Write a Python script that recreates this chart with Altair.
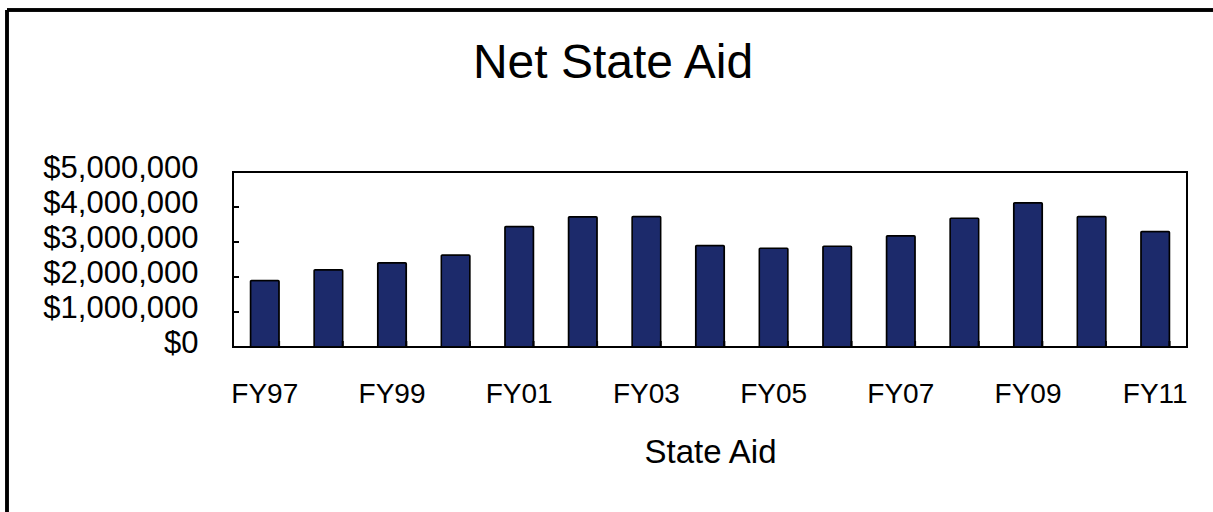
import altair as alt
import pandas as pd

years = ["FY97", "FY98", "FY99", "FY00", "FY01", "FY02", "FY03", "FY04",
         "FY05", "FY06", "FY07", "FY08", "FY09", "FY10", "FY11"]
aid = [1900000, 2210000, 2410000, 2630000, 3440000, 3720000, 3730000, 2900000,
       2820000, 2880000, 3180000, 3680000, 4120000, 3730000, 3300000]
shown_labels = ["FY97", "FY99", "FY01", "FY03", "FY05", "FY07", "FY09", "FY11"]
y_ticks = [0, 1000000, 2000000, 3000000, 4000000, 5000000]
inner_ticks = [1000000, 2000000, 3000000, 4000000]
chart_title = ["Net State Aid"]

df = pd.DataFrame({"year": years, "aid": aid})
tick_df = pd.DataFrame({"v": inner_ticks})
title_df = pd.DataFrame({"t": chart_title})

W, H = 954, 175
FONT = "Liberation Sans"

x_axis = alt.Axis(values=shown_labels, labelAngle=0, ticks=False, domain=False,
                  labelFontSize=28, labelPadding=33, labelColor="black",
                  labelFont=FONT, titleFont=FONT, titleFontSize=33,
                  titleFontWeight="normal", titleColor="black", titlePadding=28)
y_axis = alt.Axis(values=y_ticks, format="$,.0f", ticks=False, domain=False, grid=False,
                  labelFontSize=31, labelPadding=35, labelColor="black",
                  labelFont=FONT, labelOverlap=False, labelBound=False,
                  labelBaseline="middle", labelOffset=-4)
x_scale = alt.Scale(paddingInner=0.55, paddingOuter=0.275)
y_scale = alt.Scale(domain=[0, 5000000])

bars = alt.Chart(df).mark_bar(color="#1c2a6b", stroke="black", strokeWidth=1.5,
                              cornerRadius=1).encode(
    x=alt.X("year:N", sort=years, title="State Aid", scale=x_scale, axis=x_axis),
    y=alt.Y("aid:Q", scale=y_scale, title=None, axis=y_axis),
)

xticks = alt.Chart(df).mark_rule(color="black", strokeWidth=2).encode(
    x=alt.X("year:N", sort=years, title="State Aid", scale=x_scale, axis=x_axis,
            bandPosition=1),
    y=alt.value(H - 6), y2=alt.value(H),
)

yticks = alt.Chart(tick_df).mark_rule(color="black", strokeWidth=2).encode(
    y=alt.Y("v:Q", scale=y_scale, title=None, axis=y_axis),
    x=alt.value(0), x2=alt.value(6),
)

title = alt.Chart(title_df).mark_text(fontSize=48, font=FONT, color="black",
                                      align="center", baseline="alphabetic").encode(
    text="t:N", x=alt.value(380), y=alt.value(-94)
)

border_top = alt.Chart(tick_df).mark_rule(color="black", strokeWidth=3).encode(
    x=alt.value(-226), x2=alt.value(1000), y=alt.value(-162)
)
border_left = alt.Chart(tick_df).mark_rule(color="black", strokeWidth=3).encode(
    x=alt.value(-226), y=alt.value(-162), y2=alt.value(400)
)

chart = alt.layer(bars, xticks, yticks, title, border_top, border_left).properties(
    width=W, height=H,
    autosize=alt.AutoSizeParams(type="none"),
    padding={"left": 233, "top": 172, "right": 26, "bottom": 165},
).configure(background="white").configure_view(
    stroke="black", strokeWidth=2
).configure_axis(labelOverlap=False)

chart.save("out.html", embed_options={"renderer": "svg", "actions": False})
